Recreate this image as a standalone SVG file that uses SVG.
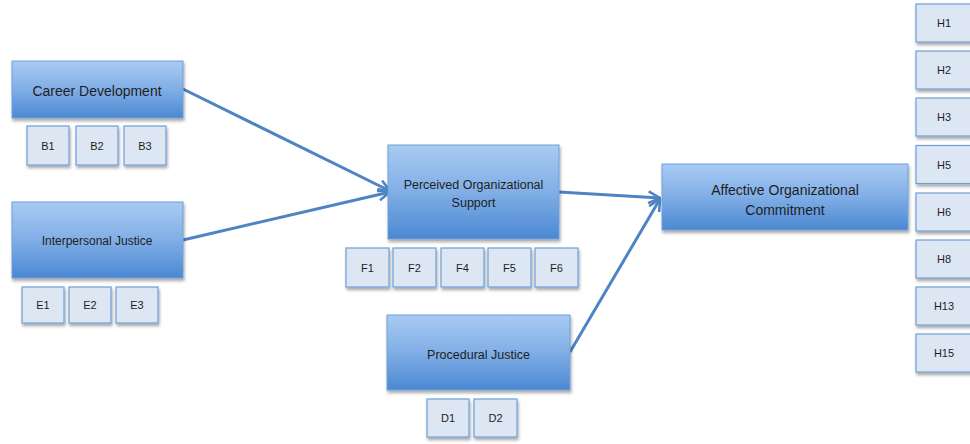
<svg xmlns="http://www.w3.org/2000/svg" width="970" height="444" viewBox="0 0 970 444">
<defs>
<linearGradient id="bg" x1="0" y1="0" x2="0" y2="1">
<stop offset="0" stop-color="#a9cbf3"/>
<stop offset="0.5" stop-color="#80aee6"/>
<stop offset="1" stop-color="#4b88d2"/>
</linearGradient>
<filter id="sh" x="-10%" y="-10%" width="130%" height="140%">
<feDropShadow dx="1" dy="2.5" stdDeviation="1.5" flood-color="#000" flood-opacity="0.35"/>
</filter>
<marker id="ar" viewBox="0 0 12 12" refX="11" refY="6" markerWidth="14" markerHeight="14" markerUnits="userSpaceOnUse" orient="auto">
<path d="M1,1 L11,6 L1,11" fill="none" stroke="#4f84c4" stroke-width="2.2" stroke-linejoin="miter"/>
</marker>
</defs>
<style>
.big{fill:url(#bg);stroke:#6f9fd8;stroke-width:1;filter:url(#sh)}
.sm{fill:#dde7f4;stroke:#6f9fd8;stroke-width:1.2;filter:url(#sh)}
text{font-family:"Liberation Sans",Arial,sans-serif;fill:#1e1e1e;text-anchor:middle;dominant-baseline:central}
.t14{font-size:14px}
.t12{font-size:12px}
.t125{font-size:12.5px}
.ts{font-size:11px}
.con{fill:none;stroke:#4f84c4;stroke-width:3;marker-end:url(#ar)}
</style>

<g id="connectors">
<line class="con" x1="183" y1="89" x2="390" y2="191"/>
<line class="con" x1="183" y1="240" x2="390" y2="192"/>
<line class="con" x1="559" y1="192" x2="660" y2="198"/>
<line class="con" x1="570" y1="352" x2="660" y2="199"/>
</g>

<g id="career-development">
<rect class="big" x="12" y="61" width="171" height="57"/>
<text class="t14" x="97" y="91">Career Development</text>
</g>
<g id="B1"><rect class="sm" x="27" y="126" width="42" height="39"/><text class="ts" x="48" y="145.5">B1</text></g>
<g id="B2"><rect class="sm" x="76" y="126" width="42" height="39"/><text class="ts" x="97" y="145.5">B2</text></g>
<g id="B3"><rect class="sm" x="124" y="126" width="42" height="39"/><text class="ts" x="145" y="145.5">B3</text></g>

<g id="interpersonal-justice">
<rect class="big" x="12" y="202" width="171" height="76"/>
<text class="t12" x="97" y="241">Interpersonal Justice</text>
</g>
<g id="E1"><rect class="sm" x="22" y="287" width="42" height="36"/><text class="ts" x="43" y="305">E1</text></g>
<g id="E2"><rect class="sm" x="69" y="287" width="42" height="36"/><text class="ts" x="90" y="305">E2</text></g>
<g id="E3"><rect class="sm" x="116" y="287" width="42" height="36"/><text class="ts" x="137" y="305">E3</text></g>

<g id="perceived-organizational-support">
<rect class="big" x="388" y="145" width="171" height="94"/>
<text class="t125" x="473.5" y="185">Perceived Organizational</text>
<text class="t125" x="473.5" y="203">Support</text>
</g>
<g id="F1"><rect class="sm" x="346" y="248" width="43" height="39"/><text class="ts" x="367.5" y="267.5">F1</text></g>
<g id="F2"><rect class="sm" x="393" y="248" width="43" height="39"/><text class="ts" x="414.5" y="267.5">F2</text></g>
<g id="F4"><rect class="sm" x="441" y="248" width="43" height="39"/><text class="ts" x="462.5" y="267.5">F4</text></g>
<g id="F5"><rect class="sm" x="488" y="248" width="43" height="39"/><text class="ts" x="509.5" y="267.5">F5</text></g>
<g id="F6"><rect class="sm" x="535" y="248" width="43" height="39"/><text class="ts" x="556.5" y="267.5">F6</text></g>

<g id="procedural-justice">
<rect class="big" x="387" y="315" width="183" height="75"/>
<text class="t125" x="478.5" y="355">Procedural Justice</text>
</g>
<g id="D1"><rect class="sm" x="427" y="399" width="42" height="38"/><text class="ts" x="448" y="418">D1</text></g>
<g id="D2"><rect class="sm" x="474" y="399" width="43" height="38"/><text class="ts" x="495.5" y="418">D2</text></g>

<g id="affective-organizational-commitment">
<rect class="big" x="662" y="164" width="246" height="66"/>
<text class="t14" x="785" y="190">Affective Organizational</text>
<text class="t14" x="785" y="210">Commitment</text>
</g>
<g id="H1"><rect class="sm" x="916" y="4" width="60" height="38"/><text class="ts" x="944" y="23">H1</text></g>
<g id="H2"><rect class="sm" x="916" y="51" width="60" height="38"/><text class="ts" x="944" y="70">H2</text></g>
<g id="H3"><rect class="sm" x="916" y="98" width="60" height="38"/><text class="ts" x="944" y="117">H3</text></g>
<g id="H5"><rect class="sm" x="916" y="145.5" width="60" height="38"/><text class="ts" x="944" y="164.5">H5</text></g>
<g id="H6"><rect class="sm" x="916" y="193" width="60" height="38"/><text class="ts" x="944" y="212">H6</text></g>
<g id="H8"><rect class="sm" x="916" y="240" width="60" height="38"/><text class="ts" x="944" y="259">H8</text></g>
<g id="H13"><rect class="sm" x="916" y="287" width="60" height="38"/><text class="ts" x="944" y="306">H13</text></g>
<g id="H15"><rect class="sm" x="916" y="334" width="60" height="38"/><text class="ts" x="944" y="353">H15</text></g>
</svg>
